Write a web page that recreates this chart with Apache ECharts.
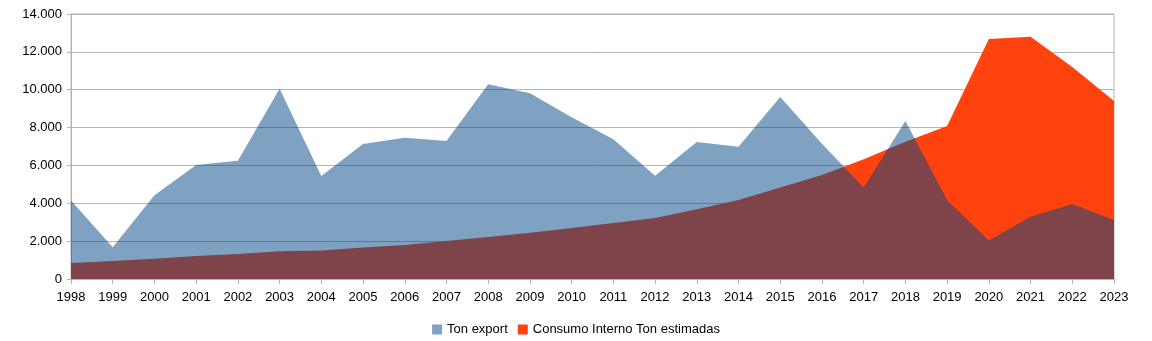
<!DOCTYPE html>
<html><head><meta charset="utf-8">
<script src="https://cdn.jsdelivr.net/npm/echarts@6/dist/echarts.min.js"></script>
<style>html,body{margin:0;padding:0;background:#fff}#c{width:1152px;height:341px}</style>
</head><body><div id="c"></div>
<script>
const years = ['1998','1999','2000','2001','2002','2003','2004','2005','2006','2007','2008','2009','2010','2011','2012','2013','2014','2015','2016','2017','2018','2019','2020','2021','2022','2023'];
const tonExport = [4150,1680,4420,6020,6250,10050,5440,7130,7460,7290,10290,9810,8540,7380,5460,7240,6990,9620,7150,4840,8350,4170,2030,3290,3960,3120];
const consumoInterno = [850,950,1070,1210,1320,1470,1500,1660,1800,2010,2220,2450,2700,2960,3220,3680,4180,4830,5500,6320,7250,8080,12680,12800,11200,9400];
const yTicks = {min:0, max:14000, interval:2000};

function fmt(v){ return String(v).replace(/\B(?=(\d{3})+(?!\d))/g,'.'); }

const chart = echarts.init(document.getElementById('c'));
chart.setOption({
  animation:false,
  textStyle:{fontFamily:'Liberation Sans, Arial, sans-serif'},
  grid:{left:71,right:38,top:14,bottom:62,show:true,borderColor:'#b3b3b3',borderWidth:1},
  legend:{
    data:['Ton export','Consumo Interno Ton estimadas'],
    top:318,left:'center',itemWidth:10,itemHeight:10,itemGap:10,
    icon:'rect',
    textStyle:{fontSize:13,color:'#000',fontFamily:'Liberation Sans, Arial, sans-serif'}
  },
  xAxis:{
    type:'category',data:years,boundaryGap:false,
    axisLine:{lineStyle:{color:'#b3b3b3'}},
    axisTick:{show:true,length:5,lineStyle:{color:'#b3b3b3'}},
    axisLabel:{color:'#000',fontSize:13,margin:12},
    splitLine:{show:false}
  },
  yAxis:{
    type:'value',min:yTicks.min,max:yTicks.max,interval:yTicks.interval,
    axisLine:{show:true,lineStyle:{color:'#b3b3b3'}},
    axisTick:{show:true,length:4,lineStyle:{color:'#b3b3b3'}},
    axisLabel:{color:'#000',fontSize:13,margin:9,formatter:fmt},
    splitLine:{lineStyle:{color:'#b3b3b3'}}
  },
  series:[
    {name:'Consumo Interno Ton estimadas',type:'line',data:consumoInterno,
     symbol:'none',lineStyle:{width:0},itemStyle:{color:'#ff420e'},
     areaStyle:{color:'#ff420e',opacity:1},z:2},
    {name:'Ton export',type:'line',data:tonExport,
     symbol:'none',lineStyle:{width:0},itemStyle:{color:'rgba(0,69,134,0.5)'},
     areaStyle:{color:'rgba(0,69,134,0.5)',opacity:1},z:3}
  ]
});
</script></body></html>
